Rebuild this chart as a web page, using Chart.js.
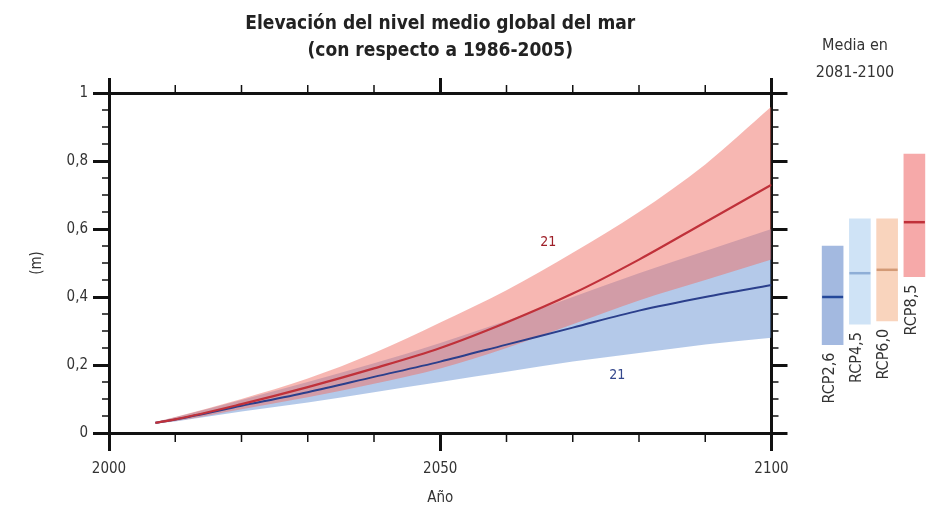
<!DOCTYPE html>
<html>
<head>
<meta charset="utf-8">
<script src="https://cdn.jsdelivr.net/npm/chart.js@4.4.1/dist/chart.umd.min.js"></script>
<style>
    body { margin: 0; background: #fff; overflow: hidden; }
    #wrap { position: relative; width: 926px; height: 515px; overflow: hidden; }
    #mainChart { position: absolute; left: 0; top: 0; }
    #sideChart { position: absolute; left: 806px; top: 0; }
</style>
</head>
<body>
<div id="wrap">
    <canvas id="mainChart" width="800" height="515"></canvas>
    <canvas id="sideChart" width="135" height="515"></canvas>
</div>
<script>
const FONT = '"Liberation Sans Narrow", "DejaVu Sans Condensed", sans-serif';

// serie temporal (m, con respecto a 1986-2005)
const years = [2007, 2010, 2020, 2030, 2040, 2050, 2060, 2070, 2080, 2090, 2100];
const rcp26Mean = [0.03, 0.04, 0.08, 0.12, 0.165, 0.21, 0.26, 0.31, 0.36, 0.40, 0.435];
const rcp26Low = [0.028, 0.034, 0.063, 0.09, 0.12, 0.15, 0.18, 0.21, 0.235, 0.26, 0.28];
const rcp26High = [0.032, 0.046, 0.097, 0.15, 0.205, 0.265, 0.33, 0.40, 0.47, 0.535, 0.60];
const rcp85Mean = [0.03, 0.04, 0.085, 0.135, 0.19, 0.25, 0.325, 0.41, 0.51, 0.62, 0.73];
const rcp85Low = [0.028, 0.035, 0.07, 0.105, 0.145, 0.19, 0.25, 0.32, 0.39, 0.45, 0.51];
const rcp85High = [0.032, 0.047, 0.10, 0.16, 0.235, 0.325, 0.42, 0.53, 0.65, 0.79, 0.96];

// media 2081-2100
const scenarios = ['RCP2,6', 'RCP4,5', 'RCP6,0', 'RCP8,5'];
const periodMean = [0.40, 0.47, 0.48, 0.62];
const periodLow = [0.26, 0.32, 0.33, 0.46];
const periodHigh = [0.55, 0.63, 0.63, 0.82];

// etiquetas de numero de modelos
const modelCounts = [
    { x: 2066.3, y: 0.56, text: '21', color: '#9e1f28' },
    { x: 2076.7, y: 0.17, text: '21', color: '#34478c' }
];

const yTicks = ['0', '0,2', '0,4', '0,6', '0,8', '1'];

function toPoints(arr) {
    return years.map((yr, i) => ({ x: yr, y: arr[i] }));
}

const minorTicks = {
    id: 'minorTicks',
    afterDraw(chart) {
        const ctx = chart.ctx;
        const a = chart.chartArea;
        const x = chart.scales.x;
        const y = chart.scales.y;
        ctx.save();
        ctx.strokeStyle = '#111';
        ctx.lineWidth = 1.5;
        ctx.beginPath();
        for (let yr = 2010; yr < 2100; yr += 10) {
            if (yr === 2050) continue;
            const px = x.getPixelForValue(yr);
            ctx.moveTo(px, a.bottom); ctx.lineTo(px, a.bottom + 9);
            ctx.moveTo(px, a.top); ctx.lineTo(px, a.top - 8);
        }
        for (let k = 1; k < 20; k++) {
            if (k % 4 === 0) continue;
            const py = y.getPixelForValue(k * 0.05);
            ctx.moveTo(a.left, py); ctx.lineTo(a.left - 7, py);
            ctx.moveTo(a.right, py); ctx.lineTo(a.right + 7, py);
        }
        ctx.stroke();

        ctx.font = '14px ' + FONT;
        ctx.textAlign = 'center';
        ctx.textBaseline = 'middle';
        modelCounts.forEach(m => {
            ctx.fillStyle = m.color;
            ctx.fillText(m.text, x.getPixelForValue(m.x), y.getPixelForValue(m.y));
        });
        ctx.restore();
    }
};

const sideText = {
    id: 'sideText',
    afterDraw(chart) {
        const ctx = chart.ctx;
        const x = chart.scales.x;
        const y = chart.scales.y;
        ctx.save();
        ctx.fillStyle = '#333';
        ctx.font = '16px ' + FONT;
        ctx.textAlign = 'center';
        ctx.textBaseline = 'middle';
        ctx.fillText('Media en', 49, 46);
        ctx.fillText('2081-2100', 49, 73);

        ctx.font = '16px ' + FONT;
        ctx.textAlign = 'right';
        scenarios.forEach((s, i) => {
            ctx.save();
            ctx.translate(x.getPixelForValue(i) - 3, y.getPixelForValue(periodLow[i]) + 8);
            ctx.rotate(-Math.PI / 2);
            ctx.fillText(s, 0, 0);
            ctx.restore();
        });
        ctx.restore();
    }
};

const axisGrid = (len) => ({
    drawOnChartArea: false,
    drawTicks: true,
    tickLength: len,
    lineWidth: 3,
    color: '#111'
});
const axisBorder = { display: true, width: 3, color: '#111' };

window.onload = function () {
    new Chart(document.getElementById('mainChart'), {
        type: 'line',
        data: {
            datasets: [
                { data: toPoints(rcp26Low), borderWidth: 0, pointRadius: 0, fill: false, order: 6, cubicInterpolationMode: 'monotone' },
                { data: toPoints(rcp26High), borderWidth: 0, pointRadius: 0, fill: 0, backgroundColor: 'rgba(112,152,212,0.52)', order: 5, cubicInterpolationMode: 'monotone' },
                { data: toPoints(rcp85Low), borderWidth: 0, pointRadius: 0, fill: false, order: 4, cubicInterpolationMode: 'monotone' },
                { data: toPoints(rcp85High), borderWidth: 0, pointRadius: 0, fill: 2, backgroundColor: 'rgba(240,112,102,0.5)', order: 3, cubicInterpolationMode: 'monotone' },
                { data: toPoints(rcp26Mean), borderColor: '#2b3f8c', borderWidth: 2, pointRadius: 0, fill: false, order: 2, cubicInterpolationMode: 'monotone' },
                { data: toPoints(rcp85Mean), borderColor: '#c0313a', borderWidth: 2.2, pointRadius: 0, fill: false, order: 1, cubicInterpolationMode: 'monotone' }
            ]
        },
        options: {
            responsive: false,
            animation: false,
            devicePixelRatio: 1,
            layout: { padding: 0 },
            plugins: {
                legend: { display: false },
                tooltip: { enabled: false },
                title: {
                    display: true,
                    fullSize: false,
                    text: ['Elevación del nivel medio global del mar', '(con respecto a 1986-2005)'],
                    color: '#222',
                    font: { family: FONT, size: 19, weight: 'bold', lineHeight: 1.45 },
                    padding: { top: 10, bottom: 7.9 }
                }
            },
            scales: {
                x: {
                    type: 'linear', position: 'bottom', min: 2000, max: 2100,
                    ticks: { stepSize: 50, color: '#333', font: { family: FONT, size: 15 }, padding: 9,
                        callback: v => String(v) },
                    grid: axisGrid(18), border: axisBorder,
                    title: { display: true, text: 'Año', color: '#333', font: { family: FONT, size: 15 }, padding: { top: 0, bottom: 8 } },
                    afterFit: s => { s.height = 82; }
                },
                x2: {
                    type: 'linear', position: 'top', min: 2000, max: 2100,
                    ticks: { display: false, stepSize: 50 },
                    grid: axisGrid(15), border: axisBorder,
                    afterFit: s => { s.height = 20; }
                },
                y: {
                    type: 'linear', position: 'left', min: 0, max: 1,
                    ticks: { stepSize: 0.2, color: '#333', font: { family: FONT, size: 15 }, padding: 5,
                        callback: (v, i) => yTicks[i] },
                    grid: axisGrid(16), border: axisBorder,
                    title: { display: true, text: '(m)', color: '#333', font: { family: FONT, size: 15 }, padding: { top: 28, bottom: 0 } },
                    afterFit: s => { s.width = 109; }
                },
                y2: {
                    type: 'linear', position: 'right', min: 0, max: 1,
                    ticks: { display: false, stepSize: 0.2 },
                    grid: axisGrid(16), border: axisBorder,
                    afterFit: s => { s.width = 28.5; }
                }
            }
        },
        plugins: [minorTicks]
    });

    new Chart(document.getElementById('sideChart'), {
        type: 'bar',
        data: {
            labels: scenarios,
            datasets: [
                {
                    type: 'line',
                    data: periodMean,
                    showLine: false,
                    pointStyle: 'line',
                    pointRadius: 10.5,
                    pointBorderWidth: 2.5,
                    pointBorderColor: ['#24489a', '#8eaed6', '#d39a76', '#c0313a'],
                    order: 1
                },
                {
                    data: periodLow.map((lo, i) => [lo, periodHigh[i]]),
                    backgroundColor: ['#a3b9e0', '#cfe3f6', '#f9d4bd', '#f6a9a9'],
                    barThickness: 21,
                    order: 2
                }
            ]
        },
        options: {
            responsive: false,
            animation: false,
            devicePixelRatio: 1,
            layout: { padding: { top: 93, bottom: 82, left: 12.5, right: 10.5 } },
            plugins: { legend: { display: false }, tooltip: { enabled: false } },
            scales: {
                x: { display: false },
                y: { display: false, min: 0, max: 1 }
            }
        },
        plugins: [sideText]
    });
};
</script>
</body>
</html>
